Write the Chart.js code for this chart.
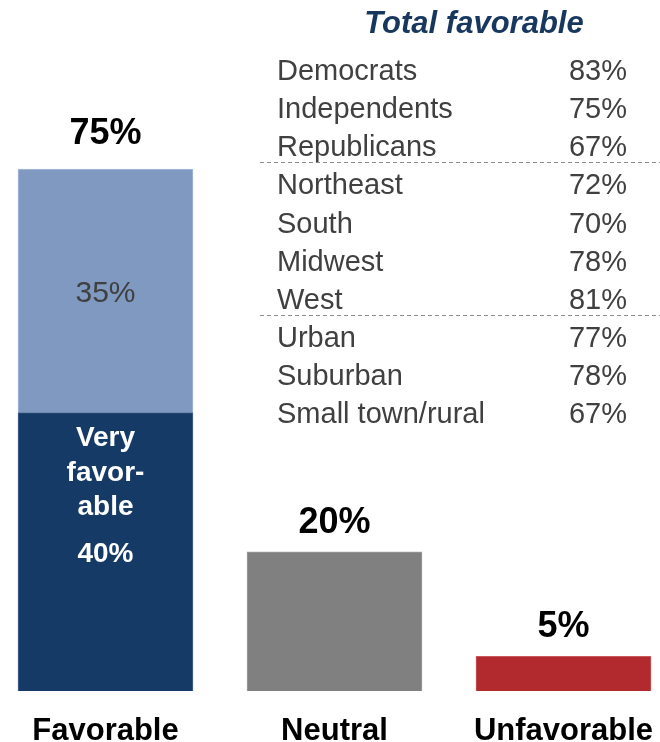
<!DOCTYPE html>
<html>
<head>
<meta charset="utf-8">
<script src="https://cdn.jsdelivr.net/npm/chart.js@4.4.1/dist/chart.umd.min.js"></script>
<style>
  html, body { margin: 0; padding: 0; background: #ffffff; }
  #wrap { width: 660px; height: 742px; position: relative; }
</style>
</head>
<body>
<div id="wrap"><canvas id="favChart"></canvas></div>
<script>
const categories = ["Favorable", "Neutral", "Unfavorable"];
const veryFavorable = [40, null, null];
const restShare = [35, 20, 5];
const restColors = ["#7f99c1", "#808080", "#b2292e"];

const groupNames = ["Democrats", "Independents", "Republicans", "Northeast", "South",
    "Midwest", "West", "Urban", "Suburban", "Small town/rural"];
const groupValues = [83, 75, 67, 72, 70, 78, 81, 77, 78, 67];
const groupBreaks = [3, 7]; // dashed line drawn before these rows

const FONT = '"Liberation Sans", Arial, sans-serif';

// labels on and above the bars
const barLabels = {
    id: "barLabels",
    afterDatasetsDraw(chart) {
        const ctx = chart.ctx;
        const darkBars = chart.getDatasetMeta(0).data;
        const lightBars = chart.getDatasetMeta(1).data;
        ctx.save();
        ctx.textAlign = "center";
        ctx.textBaseline = "middle";

        // totals above each bar
        const topGap = [35, 29, 29];
        ctx.fillStyle = "#000000";
        ctx.font = "bold 36px " + FONT;
        categories.forEach((c, i) => {
            const total = (veryFavorable[i] || 0) + restShare[i];
            const bar = lightBars[i];
            ctx.fillText(total + "%", bar.x, bar.y - topGap[i]);
        });

        // 35% inside the light segment
        const light = lightBars[0];
        ctx.fillStyle = "#404040";
        ctx.font = "30px " + FONT;
        ctx.fillText(restShare[0] + "%", light.x, (light.y + light.base) / 2 + 3);

        // very favorable text inside the dark segment
        const dark = darkBars[0];
        const mid = (dark.y + dark.base) / 2;
        ctx.fillStyle = "#ffffff";
        ctx.font = "bold 28px " + FONT;
        ctx.fillText("Very", dark.x, mid - 114);
        ctx.fillText("favor-", dark.x, mid - 79);
        ctx.fillText("able", dark.x, mid - 45);
        ctx.fillText(veryFavorable[0] + "%", dark.x, mid + 2);
        ctx.restore();
    }
};

// total favorable table on the right
const groupTable = {
    id: "groupTable",
    afterDraw(chart) {
        const ctx = chart.ctx;
        ctx.save();
        ctx.textBaseline = "alphabetic";
        ctx.fillStyle = "#17375e";
        ctx.font = "italic bold 31px " + FONT;
        ctx.textAlign = "center";
        ctx.fillText("Total favorable", 474, 33);

        ctx.font = "29px " + FONT;
        ctx.fillStyle = "#404040";
        const rowBase = 80, rowStep = 38.15;
        groupNames.forEach((name, i) => {
            const y = rowBase + i * rowStep;
            ctx.textAlign = "left";
            ctx.fillText(name, 277, y);
            ctx.textAlign = "right";
            ctx.fillText(groupValues[i] + "%", 627, y);
        });

        ctx.strokeStyle = "#8c8c8c";
        ctx.lineWidth = 1;
        ctx.setLineDash([4, 3]);
        groupBreaks.forEach(b => {
            const y = Math.round(rowBase + (b - 1) * rowStep + 6) + 0.5;
            ctx.beginPath();
            ctx.moveTo(260, y);
            ctx.lineTo(660, y);
            ctx.stroke();
        });
        ctx.restore();
    }
};

new Chart(document.getElementById("favChart"), {
    type: "bar",
    data: {
        labels: categories,
        datasets: [
            {
                label: "Very favorable",
                data: veryFavorable,
                backgroundColor: "#163a66",
                borderColor: "#4a6790",
                borderWidth: 1,
                barThickness: 175,
                clip: false
            },
            {
                label: "Favorable / total",
                data: restShare,
                backgroundColor: restColors,
                borderColor: ["#a9bcd8", "#a0a0a0", "#c85a5e"],
                borderWidth: 1,
                barThickness: 175,
                clip: false
            }
        ]
    },
    options: {
        responsive: true,
        maintainAspectRatio: false,
        animation: false,
        layout: { padding: { top: 30, bottom: 0, left: 105.5, right: 96.5 } },
        plugins: {
            legend: { display: false },
            tooltip: { enabled: false }
        },
        scales: {
            x: {
                stacked: true,
                offset: false,
                grid: { display: false, drawTicks: false },
                border: { display: false },
                ticks: {
                    autoSkip: false,
                    maxRotation: 0,
                    padding: 22,
                    color: "#000000",
                    font: { family: FONT, size: 31, weight: "bold" }
                },
                afterFit(scale) {
                    scale.height = 51;
                    scale.paddingLeft = 0;
                    scale.paddingRight = 0;
                }
            },
            y: {
                stacked: true,
                display: false,
                min: 0,
                max: 95
            }
        }
    },
    plugins: [barLabels, groupTable]
});
</script>
</body>
</html>
